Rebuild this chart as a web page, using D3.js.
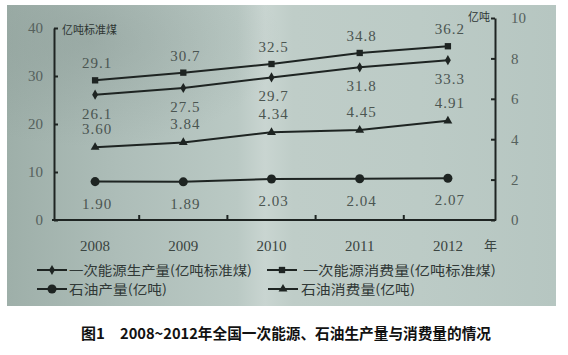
<!DOCTYPE html>
<html><head><meta charset="utf-8">
<script src="https://cdn.jsdelivr.net/npm/d3@7"></script>
<style>body{margin:0;background:#fff}svg{display:block}</style>
</head><body><svg id="c" width="568" height="355"></svg>
<script>
const years = ["2008", "2009", "2010", "2011", "2012"];
const primaryProduction = [26.1, 27.5, 29.7, 31.8, 33.3];
const primaryConsumption = [29.1, 30.7, 32.5, 34.8, 36.2];
const oilProduction = [1.90, 1.89, 2.03, 2.04, 2.07];
const oilConsumption = [3.60, 3.84, 4.34, 4.45, 4.91];
const leftTicks = [0, 10, 20, 30, 40];
const rightTicks = [0, 2, 4, 6, 8, 10];
const leftUnit = "亿吨标准煤";
const rightUnit = "亿吨";
const xUnit = "年";
const legendNames = ["一次能源生产量(亿吨标准煤)", "一次能源消费量(亿吨标准煤)", "石油产量(亿吨)", "石油消费量(亿吨)"];
const captionHead = "图1";
const captionText = "2008~2012年全国一次能源、石油生产量与消费量的情况";

const svg = d3.select("#c");
const defs = svg.append("defs");
const g1 = defs.append("linearGradient").attr("id", "bg").attr("x1", 0).attr("x2", 1).attr("y1", 0).attr("y2", 0);
[[0, "#9eafa9"], [0.2, "#adbdb8"], [0.42, "#bac9c4"], [0.47, "#c9d5d1"], [0.52, "#bfcdc8"], [0.75, "#bccbc6"], [1, "#b6c6c1"]]
  .forEach(([o, c]) => g1.append("stop").attr("offset", o).attr("stop-color", c));
const g2 = defs.append("radialGradient").attr("id", "shade").attr("cx", 0.15).attr("cy", 0.12).attr("r", 0.35);
g2.append("stop").attr("offset", 0).attr("stop-color", "#7f8f8a").attr("stop-opacity", 0.35);
g2.append("stop").attr("offset", 1).attr("stop-color", "#7f8f8a").attr("stop-opacity", 0);

svg.append("rect").attr("x", 7).attr("y", 5).attr("width", 549).attr("height", 301).attr("fill", "url(#bg)");
svg.append("rect").attr("x", 7).attr("y", 5).attr("width", 549).attr("height", 301).attr("fill", "url(#shade)");

const x = d3.scaleBand().domain(years).range([51, 492]);
const yL = d3.scaleLinear().domain([0, 40]).range([220, 28]);
const yR = d3.scaleLinear().domain([0, 10]).range([220, 18]);
const cx = d => x(d) + x.bandwidth() / 2;

const ink = "#1e2422";
const numFont = "'Liberation Serif', 'DejaVu Serif', serif";
const cjk = "'Noto Sans CJK SC', sans-serif";

// axes
const axL = svg.append("g").attr("transform", "translate(54,0)")
  .call(d3.axisLeft(yL).tickValues(leftTicks).tickSize(-4).tickPadding(11).tickSizeOuter(0));
const axR = svg.append("g").attr("transform", "translate(495,0)")
  .call(d3.axisRight(yR).tickValues(rightTicks).tickSize(-4).tickPadding(16).tickSizeOuter(0));
const axB = svg.append("g").attr("transform", "translate(0,220)")
  .call(d3.axisBottom(x).tickSize(0).tickPadding(20).tickSizeOuter(0));
[axL, axR, axB].forEach(a => {
  a.select(".domain").attr("stroke", ink).attr("stroke-width", 2);
  a.selectAll(".tick line").attr("stroke", ink).attr("stroke-width", 2);
  a.selectAll("text").attr("font-family", numFont).attr("font-size", 15).attr("fill", "#56615d");
});
axB.select(".domain").attr("d", "M52,0H496");
axB.selectAll("text").attr("fill", "#3a4441");
// boundary ticks on x axis
svg.append("g").selectAll("line").data(years.slice(1)).join("line")
  .attr("x1", d => x(d)).attr("x2", d => x(d)).attr("y1", 220).attr("y2", 215)
  .attr("stroke", ink).attr("stroke-width", 2);

svg.append("text").attr("x", 62).attr("y", 34).text(leftUnit)
  .attr("font-family", cjk).attr("font-size", 11).attr("fill", "#2d3532");
svg.append("text").attr("x", 468).attr("y", 21).text(rightUnit)
  .attr("font-family", cjk).attr("font-size", 11).attr("fill", "#2d3532");
svg.append("text").attr("x", 484).attr("y", 250).text(xUnit)
  .attr("font-family", cjk).attr("font-size", 13).attr("fill", "#3a4441");

const series = [
  { vals: primaryProduction, y: yL, sym: d3.symbolDiamond, size: 30, dy: 24, fmt: d3.format(".1f") },
  { vals: primaryConsumption, y: yL, sym: d3.symbolSquare, size: 40, dy: -12, fmt: d3.format(".1f") },
  { vals: oilProduction, y: yR, sym: d3.symbolCircle, size: 64, dy: 27, fmt: d3.format(".2f") },
  { vals: oilConsumption, y: yR, sym: d3.symbolTriangle, size: 34, dy: -13, fmt: d3.format(".2f") }
];

series.forEach(s => {
  const pts = years.map((yr, i) => [cx(yr), s.y(s.vals[i]), s.vals[i]]);
  svg.append("path").attr("d", d3.line()(pts.map(p => [p[0], p[1]])))
    .attr("fill", "none").attr("stroke", ink).attr("stroke-width", 2);
  svg.append("g").selectAll("path").data(pts).join("path")
    .attr("transform", p => `translate(${p[0]},${p[1]})`)
    .attr("d", d3.symbol().type(s.sym).size(s.size)).attr("fill", ink);
  svg.append("g").selectAll("text").data(pts).join("text")
    .attr("x", p => p[0] + 2).attr("y", p => p[1] + s.dy)
    .attr("text-anchor", "middle").attr("font-family", numFont).attr("font-size", 15)
    .attr("letter-spacing", 1).attr("fill", "#4b5551").text(p => s.fmt(p[2]));
});

// legend
const legendPos = [
  { lx: 37, tx: 69, y: 270, w: 183 },
  { lx: 267, tx: 303, y: 270, w: 193 },
  { lx: 37, tx: 69, y: 289, w: 98 },
  { lx: 268, tx: 301, y: 289, w: 114 }
];
legendPos.forEach((p, i) => {
  const s = series[i];
  svg.append("line").attr("x1", p.lx).attr("x2", p.lx + 30).attr("y1", p.y).attr("y2", p.y)
    .attr("stroke", ink).attr("stroke-width", 2);
  svg.append("path").attr("transform", `translate(${p.lx + 15},${p.y})`)
    .attr("d", d3.symbol().type(s.sym).size(s.size)).attr("fill", ink);
  svg.append("text").attr("x", p.tx).attr("y", p.y + 5).text(legendNames[i])
    .attr("font-family", cjk).attr("font-size", 13).attr("fill", "#303836")
    .attr("textLength", p.w).attr("lengthAdjust", "spacingAndGlyphs");
});

// caption
svg.append("text").attr("x", 81).attr("y", 339).text(captionHead)
  .attr("font-family", cjk).attr("font-size", 15).attr("font-weight", "bold").attr("fill", "#111");
svg.append("text").attr("x", 120).attr("y", 339).text(captionText)
  .attr("font-family", cjk).attr("font-size", 15).attr("font-weight", "bold").attr("fill", "#111")
  .attr("textLength", 371).attr("lengthAdjust", "spacingAndGlyphs");
</script></body></html>
